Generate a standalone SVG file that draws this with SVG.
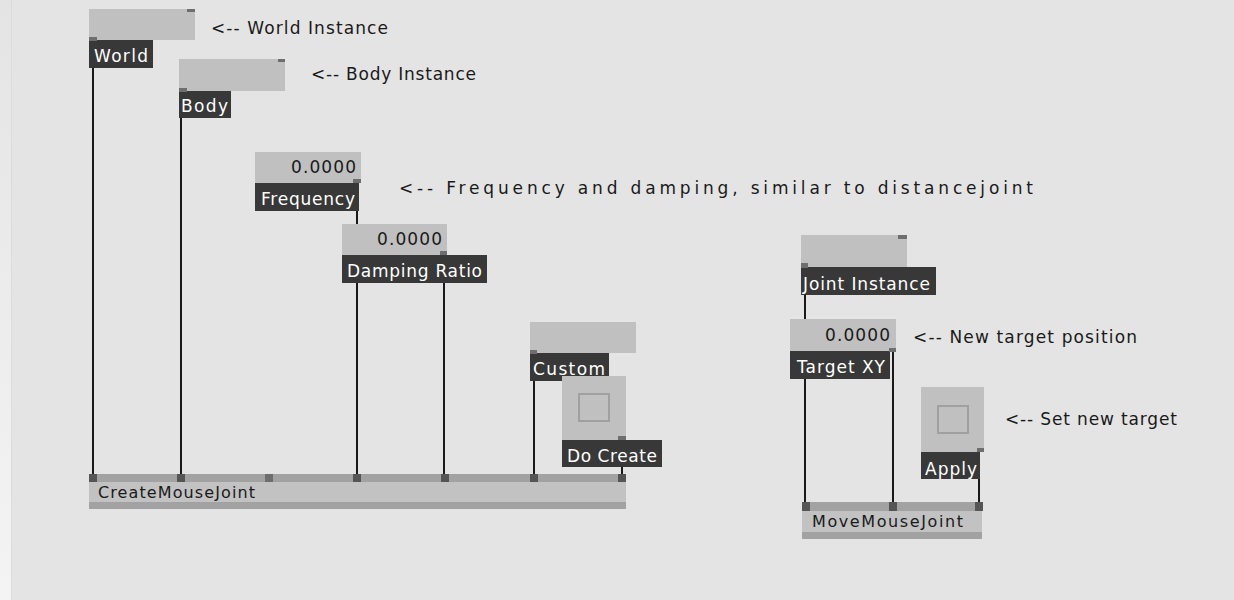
<svg xmlns="http://www.w3.org/2000/svg" width="1234" height="600" viewBox="0 0 1234 600">
<defs>
<linearGradient id="strip" x1="0" y1="0" x2="0" y2="1">
<stop offset="0" stop-color="#e4e4e4"/>
<stop offset="1" stop-color="#f4f4f4"/>
</linearGradient>
</defs>
<style>
.bg{fill:#e4e4e4}
.box{fill:#c0c0c0}
.lab{fill:#383838}
.pin{fill:#6e6e6e}
.cpin{fill:#555555}
.stripe{fill:#a2a2a2}
.mid{fill:#c2c2c2}
.tog{fill:none;stroke:#a0a0a0;stroke-width:2}
.wire{stroke:#1a1a1a;stroke-width:2;fill:none}
text{font-family:"DejaVu Sans","Liberation Sans",sans-serif;font-size:17px}
.lt{fill:#ffffff}
.ct{fill:#1a1a1a}
.vt{fill:#1a1a1a}
.nt{fill:#1a1a1a;font-size:16px}
</style>
<rect class="bg" x="0" y="0" width="1234" height="600"/>
<rect x="0" y="0" width="11" height="600" fill="url(#strip)"/>
<line x1="11.5" y1="0" x2="11.5" y2="600" stroke="#dcdcdc" stroke-width="1"/>

<g id="connectors">
<line class="wire" x1="93" y1="68" x2="93" y2="474"/>
<line class="wire" x1="181" y1="118" x2="181" y2="474"/>
<line class="wire" x1="357" y1="183" x2="357" y2="474"/>
<line class="wire" x1="444" y1="255" x2="444" y2="474"/>
<line class="wire" x1="534" y1="381" x2="534" y2="474"/>
<line class="wire" x1="622" y1="440" x2="622" y2="474"/>
<line class="wire" x1="805" y1="295" x2="805" y2="502"/>
<line class="wire" x1="893" y1="351" x2="893" y2="502"/>
<line class="wire" x1="979" y1="452" x2="979" y2="502"/>
</g>

<g id="world">
<rect class="box" x="89" y="9" width="106" height="31"/>
<rect class="pin" x="187" y="9" width="8" height="3"/>
<rect class="lab" x="89" y="40" width="64" height="28"/>
<rect class="pin" x="89" y="37" width="8" height="4"/>
<text class="lt" x="94" y="62" textLength="54" lengthAdjust="spacing">World</text>
</g>
<text class="ct" x="211" y="34" textLength="177" lengthAdjust="spacing">&lt;-- World Instance</text>

<g id="body">
<rect class="box" x="179" y="59" width="106" height="32"/>
<rect class="pin" x="278" y="59" width="7" height="3"/>
<rect class="lab" x="179" y="91" width="52" height="27"/>
<rect class="pin" x="179" y="88" width="8" height="4"/>
<text class="lt" x="181" y="112" textLength="47" lengthAdjust="spacing">Body</text>
</g>
<text class="ct" x="311" y="80" textLength="165" lengthAdjust="spacing">&lt;-- Body Instance</text>

<g id="frequency">
<rect class="box" x="255" y="152" width="106" height="31"/>
<text class="vt" x="291" y="173" textLength="65" lengthAdjust="spacing">0.0000</text>
<rect class="lab" x="255" y="183" width="104" height="28"/>
<rect class="pin" x="353" y="179" width="8" height="4"/>
<text class="lt" x="261" y="205" textLength="94" lengthAdjust="spacing">Frequency</text>
</g>
<text class="ct" x="399" y="194" textLength="634" lengthAdjust="spacing">&lt;-- Frequency and damping, similar to distancejoint</text>

<g id="damping">
<rect class="box" x="342" y="224" width="105" height="31"/>
<text class="vt" x="377" y="245" textLength="65" lengthAdjust="spacing">0.0000</text>
<rect class="lab" x="342" y="255" width="145" height="28"/>
<rect class="pin" x="440" y="251" width="7" height="4"/>
<text class="lt" x="347" y="277" textLength="135" lengthAdjust="spacing">Damping Ratio</text>
</g>

<g id="custom">
<rect class="box" x="530" y="322" width="106" height="31"/>
<rect class="lab" x="530" y="353" width="79" height="28"/>
<rect class="pin" x="530" y="350" width="7" height="4"/>
<text class="lt" x="533" y="375" textLength="72" lengthAdjust="spacing">Custom</text>
</g>

<g id="docreate">
<rect class="box" x="562" y="376" width="64" height="64"/>
<rect class="tog" x="579" y="394" width="30" height="27"/>
<rect class="lab" x="562" y="440" width="100" height="27"/>
<rect class="pin" x="618" y="436" width="8" height="4"/>
<text class="lt" x="567" y="462" textLength="90" lengthAdjust="spacing">Do Create</text>
</g>

<g id="createmousejoint">
<rect class="stripe" x="89" y="474" width="537" height="35"/>
<rect class="mid" x="89" y="482" width="537" height="20"/>
<rect class="cpin" x="89" y="474" width="8" height="8"/>
<rect class="cpin" x="177" y="474" width="8" height="8"/>
<rect class="pin" x="265" y="474" width="8" height="8"/>
<rect class="cpin" x="353" y="474" width="8" height="8"/>
<rect class="cpin" x="441" y="474" width="8" height="8"/>
<rect class="cpin" x="530" y="474" width="8" height="8"/>
<rect class="cpin" x="618" y="474" width="8" height="8"/>
<text class="nt" x="98" y="498" textLength="157" lengthAdjust="spacing">CreateMouseJoint</text>
</g>

<g id="jointinstance">
<rect class="box" x="801" y="235" width="106" height="32"/>
<rect class="pin" x="898" y="235" width="9" height="4"/>
<rect class="lab" x="801" y="267" width="135" height="28"/>
<rect class="pin" x="801" y="263" width="7" height="5"/>
<text class="lt" x="803" y="290" textLength="127" lengthAdjust="spacing">Joint Instance</text>
</g>

<g id="targetxy">
<rect class="box" x="790" y="319" width="106" height="32"/>
<text class="vt" x="825" y="341" textLength="65" lengthAdjust="spacing">0.0000</text>
<rect class="lab" x="790" y="351" width="100" height="28"/>
<rect class="pin" x="889" y="348" width="7" height="4"/>
<text class="lt" x="797" y="373" textLength="88" lengthAdjust="spacing">Target XY</text>
</g>
<text class="ct" x="913" y="343" textLength="224" lengthAdjust="spacing">&lt;-- New target position</text>

<g id="apply">
<rect class="box" x="921" y="387" width="63" height="65"/>
<rect class="tog" x="938" y="406" width="30" height="27"/>
<rect class="lab" x="921" y="452" width="59" height="27"/>
<rect class="pin" x="977" y="448" width="7" height="4"/>
<text class="lt" x="925" y="475" textLength="52" lengthAdjust="spacing">Apply</text>
</g>
<text class="ct" x="1005" y="425" textLength="172" lengthAdjust="spacing">&lt;-- Set new target</text>

<g id="movemousejoint">
<rect class="stripe" x="802" y="502" width="180" height="37"/>
<rect class="mid" x="802" y="511" width="180" height="21"/>
<rect class="cpin" x="802" y="502" width="8" height="9"/>
<rect class="cpin" x="889" y="502" width="8" height="9"/>
<rect class="cpin" x="975" y="502" width="8" height="9"/>
<text class="nt" x="812" y="527" textLength="151" lengthAdjust="spacing">MoveMouseJoint</text>
</g>
</svg>
